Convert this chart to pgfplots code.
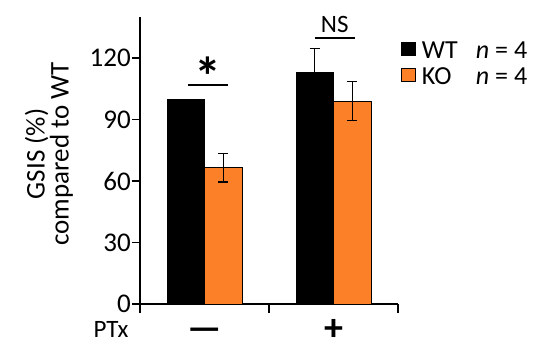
\documentclass[border=0pt]{standalone}
\usepackage{fontspec}
\setmainfont{Carlito}
\usepackage{pgfplots}
\pgfplotsset{compat=1.18}
\definecolor{ko}{RGB}{252,128,40}
\begin{document}
\fontsize{25}{30}\selectfont
\begin{tikzpicture}
\useasboundingbox (-140pt,-45pt) rectangle (410pt,304pt);
\begin{axis}[
  at={(0pt,0pt)}, anchor=south west,
  width=258pt, height=287pt, scale only axis,
  xmin=-0.5, xmax=1.5, ymin=0, ymax=140,
  axis x line*=bottom, axis y line*=left,
  axis line style={line width=1.4pt},
  tick align=outside,
  major tick length=8pt,
  minor tick length=9pt,
  tick style={line width=1.4pt, black},
  ytick={0,30,60,90,120},
  xtick={0,1}, xticklabels={—,+},
  xtick style={/pgfplots/major tick length=0pt},
  minor xtick={-0.5,0.5,1.5},
  /pgf/number format/assume math mode=true,
  yticklabel style={inner sep=1pt, font=\fontsize{27}{30}\selectfont},
  xticklabel style={anchor=base, inner sep=0pt, yshift=-28pt, font=\fontsize{38}{38}\selectfont\bfseries},
  ylabel={GSIS (\%)\\compared to WT},
  ylabel style={align=center, font=\fontsize{27}{24}\selectfont, at={([xshift=-91pt]axis cs:-0.5,73.2)}, anchor=center},
  clip=false,
  legend style={at={(axis cs:1.5,140)}, anchor=north west, xshift=3pt, yshift=-24pt,
    draw=none, fill=none, inner sep=0pt, row sep=3pt,
    nodes={inner sep=0pt, text height=17pt, text depth=6pt, font=\fontsize{26}{30}\selectfont}},
  legend cell align=left,
  legend image code/.code={\draw[#1, draw=black, line width=0.8pt] (0pt,-3pt) rectangle (14pt,10pt); \path (20pt,0pt);},
]
\addplot[ybar, bar width=37.5pt, bar shift=0pt, fill=black, draw=black]
  coordinates {(-0.14535,100)};
\addlegendentry{\makebox[54pt][l]{WT}\textit{n} = 4}
\addplot[ybar, bar width=37.5pt, bar shift=0pt, fill=black, draw=black, forget plot,
  error bars/.cd, y dir=both, y explicit,
  error bar style={line width=1.3pt, black},
  error mark options={rotate=90, mark size=5pt, line width=1.3pt, black}]
  coordinates {(0.85465,113) +- (0,11.5)};
\addplot[ybar, bar width=37.5pt, bar shift=0pt, fill=ko, draw=black, line width=0.8pt,
  error bars/.cd, y dir=both, y explicit,
  error bar style={line width=1.3pt, black},
  error mark options={rotate=90, mark size=5pt, line width=1.3pt, black}]
  coordinates {(0.14535,66.5) +- (0,7) (1.14535,99) +- (0,9.5)};
\addlegendentry{\makebox[54pt][l]{KO}\textit{n} = 4}
\draw[line width=2.8pt] (axis cs:-0.128,106.8) -- (axis cs:0.182,106.8);
\node[font=\fontsize{54}{54}\selectfont\bfseries] at (axis cs:0.027,111) {*};
\draw[line width=2.8pt] (axis cs:0.857,129.8) -- (axis cs:1.167,129.8);
\node[font=\fontsize{25}{30}\selectfont] at (axis cs:1.01,136.3) {NS};
\node[anchor=base, yshift=-33pt, font=\fontsize{25}{30}\selectfont] at (axis cs:-0.725,0) {PTx};
\end{axis}
\end{tikzpicture}
\end{document}
